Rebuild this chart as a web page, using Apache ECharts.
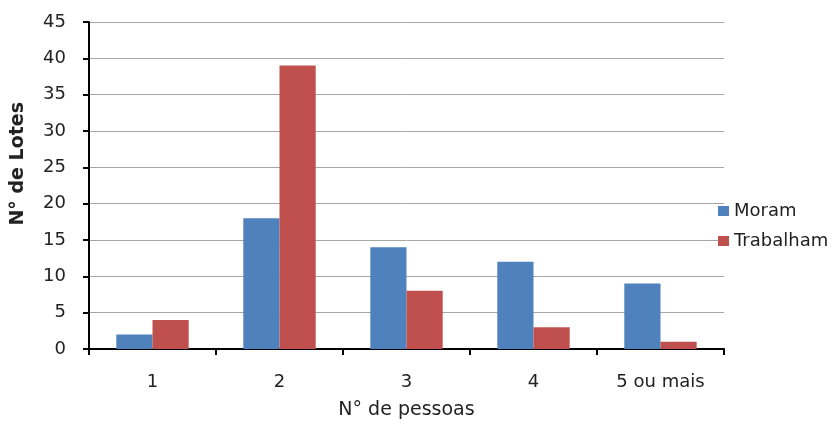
<!DOCTYPE html>
<html><head><meta charset="utf-8">
<script src="https://cdn.jsdelivr.net/npm/echarts@6/dist/echarts.min.js"></script>
<style>html,body{margin:0;padding:0;background:#fff}#c{width:840px;height:424px}</style>
</head><body><div id="c"></div>
<script>
const categories = ['1', '2', '3', '4', '5 ou mais'];
const moram = [2, 18, 14, 12, 9];
const trabalham = [4, 39, 8, 3, 1];
const yTicks = { min: 0, max: 45, interval: 5 };

const font = '"DejaVu Sans", "Open Sans", sans-serif';
const chart = echarts.init(document.getElementById('c'));
chart.setOption({
  animation: false,
  textStyle: { fontFamily: font },
  grid: { left: 89, right: 116, top: 22, bottom: 75, containLabel: false, outerBoundsMode: 'none' },
  legend: {
    orient: 'vertical', left: 713, top: 197, itemGap: 12,
    icon: 'rect', itemWidth: 11, itemHeight: 10,
    textStyle: { fontSize: 18, color: '#222', fontFamily: font },
    data: ['Moram', 'Trabalham']
  },
  graphic: [{
    type: 'text', left: 9, top: 102, rotation: Math.PI / 2,
    style: { text: 'N° de Lotes', fontSize: 19, fontWeight: 'bold', fill: '#222', fontFamily: font }
  }],
  xAxis: {
    type: 'category', data: categories,
    name: 'N° de pessoas', nameLocation: 'middle', nameGap: 52,
    nameTextStyle: { fontSize: 19, color: '#222', fontFamily: font },
    axisLine: { lineStyle: { color: '#000', width: 2 } },
    axisTick: { show: true, length: 6, lineStyle: { color: '#000', width: 2 } },
    axisLabel: { fontSize: 18, color: '#222', margin: 24 },
    splitLine: { show: false }
  },
  yAxis: {
    type: 'value', min: yTicks.min, max: yTicks.max, interval: yTicks.interval,
    axisLine: { show: true, lineStyle: { color: '#000', width: 2 } },
    axisTick: { show: true, length: 6, lineStyle: { color: '#000', width: 2 } },
    axisLabel: { fontSize: 18, color: '#222', margin: 23 },
    splitLine: { show: true, lineStyle: { color: '#a6a6a6', width: 1 } }
  },
  series: [
    { name: 'Moram', type: 'bar', data: moram, barCategoryGap: '43%', barGap: '0%',
      itemStyle: { color: '#4f81bd' } },
    { name: 'Trabalham', type: 'bar', data: trabalham, barCategoryGap: '43%', barGap: '0%',
      itemStyle: { color: '#c0504d' } }
  ]
});
</script></body></html>
